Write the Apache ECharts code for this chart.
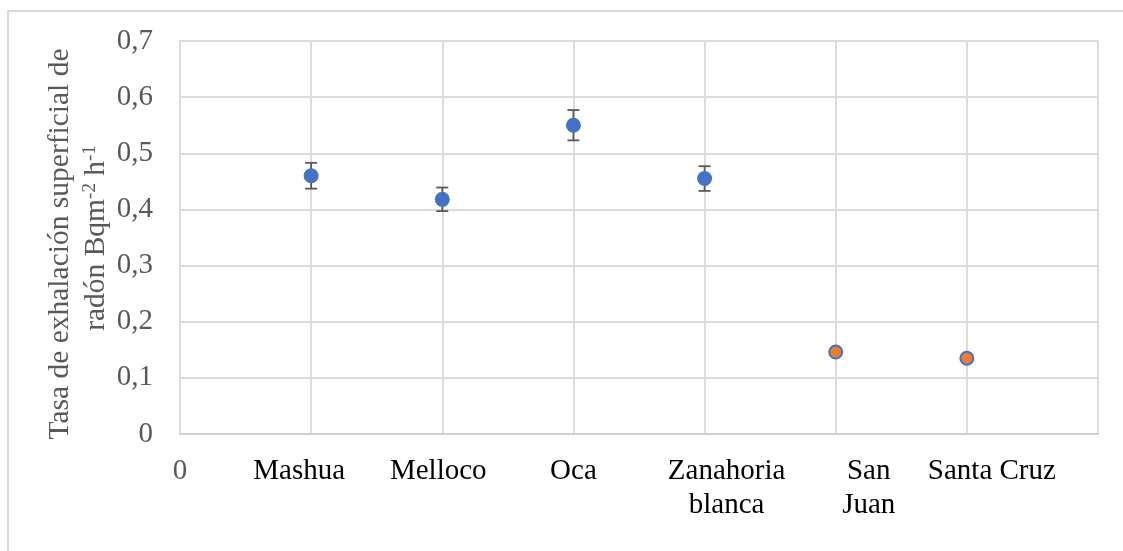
<!DOCTYPE html>
<html>
<head>
<meta charset="utf-8">
<script src="https://cdn.jsdelivr.net/npm/echarts@6/dist/echarts.min.js"></script>
<style>
  html, body { margin: 0; padding: 0; background: #fff; }
  #chart { width: 1123px; height: 551px; }
</style>
</head>
<body>
<div id="chart"></div>
<script>
// Sample sites along the x axis (positions 1..6)
const categories = ['Mashua', 'Melloco', 'Oca', 'Zanahoria\nblanca', 'San\nJuan', 'Santa Cruz'];
// Radon exhalation rate (Bq m-2 h-1), crops with measurement uncertainty
const cropPositions = [1, 2, 3, 4];
const cropValues = [0.46, 0.418, 0.55, 0.455];
const cropErrors = [0.023, 0.021, 0.027, 0.022];
// Soil sites
const sitePositions = [5, 6];
const siteValues = [0.146, 0.135];
// Y tick labels use a decimal comma
const yTicks = [0, 0.1, 0.2, 0.3, 0.4, 0.5, 0.6, 0.7];

const FONT = '"Liberation Serif", "Times New Roman", serif';
const GRAY = '#595959';
const LABEL_SIZE = 29;

// horizontal nudge (px) of each category label relative to its tick
const labelNudge = [-12, -4, 0, 22, 33, 25];

const labelRich = { z: { color: GRAY, fontFamily: FONT, fontSize: LABEL_SIZE } };
labelNudge.forEach((d, i) => {
  labelRich['c' + i] = {
    color: '#000',
    fontFamily: FONT,
    fontSize: LABEL_SIZE,
    lineHeight: 34,
    padding: d >= 0 ? [0, 0, 0, 2 * d] : [0, -2 * d, 0, 0]
  };
});

const chart = echarts.init(document.getElementById('chart'), null, { renderer: 'canvas' });

const cropPoints = cropPositions.map((x, i) => [x, cropValues[i]]);
const sitePoints = sitePositions.map((x, i) => [x, siteValues[i]]);
const errorData = cropPositions.map((x, i) => [x, cropValues[i] - cropErrors[i], cropValues[i] + cropErrors[i]]);

chart.setOption({
  animation: false,
  backgroundColor: '#ffffff',
  grid: { left: 180, right: 25, top: 41, bottom: 117 },
  xAxis: {
    type: 'value',
    min: 0,
    max: 7,
    interval: 1,
    axisLine: { show: true, lineStyle: { color: '#d0d0d0', width: 2 } },
    axisTick: { show: false },
    splitLine: { show: true, lineStyle: { color: '#dcdcdc', width: 2 } },
    axisLabel: {
      margin: 20,
      fontFamily: FONT,
      fontSize: LABEL_SIZE,
      color: '#000',
      lineHeight: 34,
      formatter: function (v) {
        if (v === 0) return '{z|0}';
        if (v >= 1 && v <= categories.length) {
          const key = 'c' + (v - 1);
          return categories[v - 1].split('\n').map(s => '{' + key + '|' + s + '}').join('\n');
        }
        return '';
      },
      rich: labelRich
    }
  },
  yAxis: {
    type: 'value',
    min: 0,
    max: 0.7,
    interval: 0.1,
    axisLine: { show: true, lineStyle: { color: '#dcdcdc', width: 2 } },
    axisTick: { show: false },
    splitLine: { show: true, lineStyle: { color: '#dcdcdc', width: 2 } },
    axisLabel: {
      margin: 27,
      fontFamily: FONT,
      fontSize: LABEL_SIZE,
      color: GRAY,
      formatter: function (v) {
        const t = yTicks.find(k => Math.abs(k - v) < 1e-9);
        return String(t === undefined ? v : t).replace('.', ',');
      }
    }
  },
  graphic: [
    {
      type: 'rect',
      silent: true,
      shape: { x: 8, y: 11, width: 1300, height: 700 },
      style: { fill: 'none', stroke: '#d9d9d9', lineWidth: 2 },
      z: -10
    },
    {
      type: 'text',
      x: 60,
      y: 244,
      rotation: Math.PI / 2,
      style: {
        text: 'Tasa de exhalación superficial de',
        font: '29.5px ' + FONT,
        fill: GRAY,
        align: 'center',
        verticalAlign: 'middle'
      }
    },
    {
      type: 'text',
      x: 96,
      y: 238,
      rotation: Math.PI / 2,
      style: {
        text: '{n|radón Bqm}{s|-2}{n| h}{s|-1}',
        align: 'center',
        verticalAlign: 'middle',
        rich: {
          n: { fontFamily: FONT, fontSize: 29.5, fill: GRAY, color: GRAY },
          s: { fontFamily: FONT, fontSize: 19, fill: GRAY, color: GRAY, verticalAlign: 'top' }
        }
      }
    }
  ],
  series: [
    {
      type: 'custom',
      name: 'error',
      data: errorData,
      z: 3,
      renderItem: function (params, api) {
        const x = api.value(0);
        const lo = api.coord([x, api.value(1)]);
        const hi = api.coord([x, api.value(2)]);
        const w = 6;
        const style = { stroke: '#595959', lineWidth: 1.8 };
        return {
          type: 'group',
          children: [
            { type: 'line', shape: { x1: lo[0], y1: lo[1], x2: hi[0], y2: hi[1] }, style: style },
            { type: 'line', shape: { x1: hi[0] - w, y1: hi[1], x2: hi[0] + w, y2: hi[1] }, style: style },
            { type: 'line', shape: { x1: lo[0] - w, y1: lo[1], x2: lo[0] + w, y2: lo[1] }, style: style }
          ]
        };
      }
    },
    {
      type: 'scatter',
      name: 'Cultivos',
      data: cropPoints,
      symbol: 'circle',
      symbolSize: 15,
      z: 4,
      itemStyle: { color: '#4472C4', opacity: 1 }
    },
    {
      type: 'scatter',
      name: 'Suelos',
      data: sitePoints,
      symbol: 'circle',
      symbolSize: 13,
      z: 4,
      itemStyle: { color: '#ED7D31', borderColor: '#4472C4', borderWidth: 2, opacity: 1 }
    }
  ]
});
</script>
</body>
</html>
